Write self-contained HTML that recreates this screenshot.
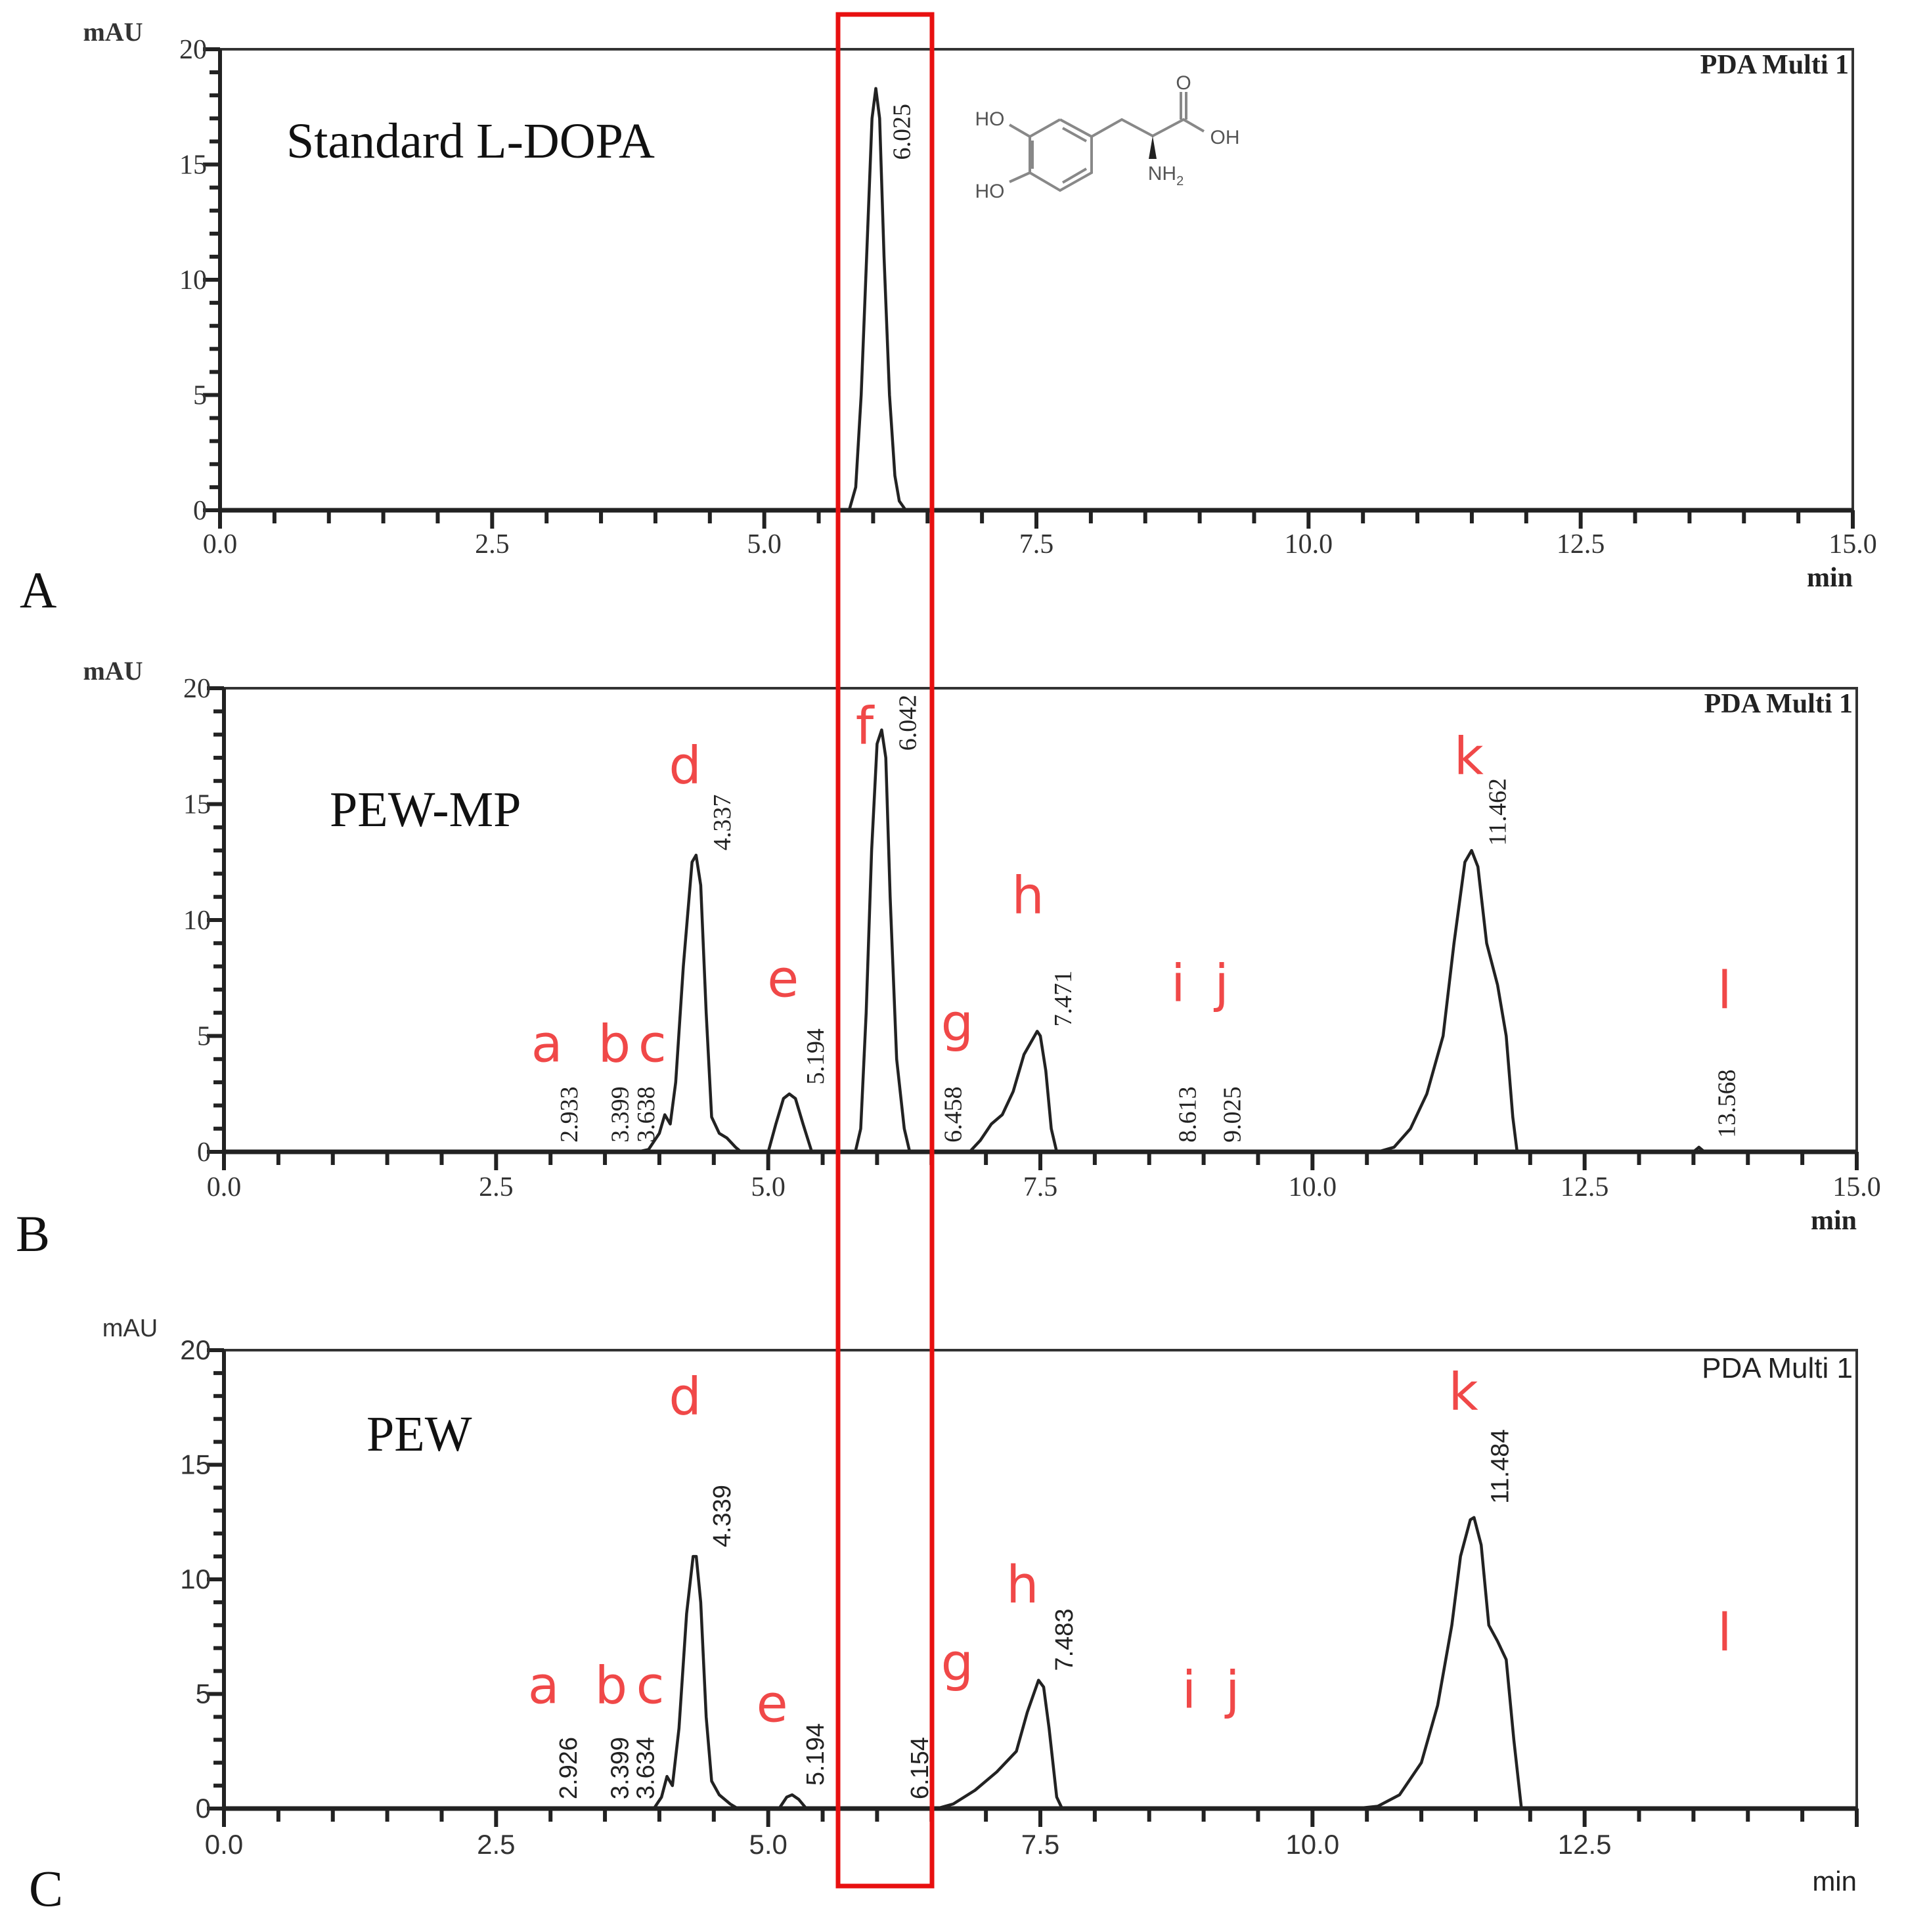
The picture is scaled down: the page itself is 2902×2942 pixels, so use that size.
<!DOCTYPE html>
<html><head><meta charset="utf-8"><style>
html,body{margin:0;padding:0;background:#fff;}
svg{display:block;}
</style></head><body>
<svg id="chart" width="2902" height="2942" viewBox="0 0 2902 2942" xmlns="http://www.w3.org/2000/svg">
<g id="molecule" stroke="#888" stroke-width="4" fill="none">
  <polyline points="1614,182 1662,208 1662,263 1614,290 1568,263 1568,208 1614,182"/>
  <line x1="1572" y1="214" x2="1572" y2="257" />
  <line x1="1618" y1="195" x2="1654" y2="215"/>
  <line x1="1618" y1="278" x2="1654" y2="257"/>
  <line x1="1568" y1="208" x2="1537" y2="190"/>
  <line x1="1568" y1="263" x2="1537" y2="277"/>
  <polyline points="1662,208 1708,182 1755,207 1802,182 1833,200"/>
  <line x1="1798" y1="182" x2="1798" y2="140"/><line x1="1806" y1="182" x2="1806" y2="140"/>
  <polygon points="1755,207 1749,242 1761,242" fill="#222" stroke="none"/>
  <g fill="#555" stroke="none" font-family="Liberation Sans, sans-serif" font-size="30">
    <text x="1507" y="191" text-anchor="middle">HO</text>
    <text x="1507" y="301" text-anchor="middle">HO</text>
    <text x="1802" y="136" text-anchor="middle">O</text>
    <text x="1865" y="219" text-anchor="middle">OH</text>
    <text x="1775" y="274" text-anchor="middle">NH<tspan font-size="20" dy="8">2</tspan></text>
  </g>
</g>
</svg>
<script>
// ---- data ----
var panelNames = ["A", "B", "C"];
var panelTitles = ["Standard L-DOPA", "PEW-MP", "PEW"];
var xTickLabels = ["0.0", "2.5", "5.0", "7.5", "10.0", "12.5", "15.0"];
var yTickLabels = ["0", "5", "10", "15", "20"];
var traceA_t = [5.78, 5.84, 5.89, 5.94, 5.99, 6.025, 6.06, 6.1, 6.15, 6.2, 6.24, 6.3];
var traceA_y = [0, 1, 5, 11, 17, 18.3, 17, 11, 5, 1.5, 0.4, 0];
var traceB_t = [0, 3.8, 3.9, 4.0, 4.05, 4.1, 4.15, 4.22, 4.3, 4.337, 4.38, 4.43, 4.48, 4.55, 4.62, 4.7, 4.75, 5.0, 5.07, 5.14, 5.194, 5.25, 5.32, 5.4, 5.8, 5.85, 5.9, 5.95, 6.0, 6.042, 6.08, 6.12, 6.18, 6.25, 6.3, 6.85, 6.95, 7.05, 7.15, 7.25, 7.35, 7.471, 7.5, 7.55, 7.6, 7.65, 10.6, 10.75, 10.9, 11.05, 11.2, 11.3, 11.4, 11.462, 11.52, 11.6, 11.7, 11.78, 11.84, 11.88, 13.5, 13.55, 13.6, 15];
var traceB_y = [0, 0, 0.1, 0.8, 1.6, 1.2, 3, 8, 12.5, 12.8, 11.5, 6, 1.5, 0.8, 0.6, 0.2, 0, 0, 1.2, 2.3, 2.5, 2.3, 1.2, 0, 0, 1, 6, 13, 17.6, 18.2, 17, 11, 4, 1, 0, 0, 0.5, 1.2, 1.6, 2.6, 4.2, 5.2, 5, 3.5, 1, 0, 0, 0.2, 1, 2.5, 5, 9, 12.5, 13, 12.3, 9, 7.2, 5, 1.5, 0, 0, 0.2, 0, 0];
var traceC_t = [0, 3.95, 4.02, 4.07, 4.12, 4.18, 4.25, 4.31, 4.339, 4.38, 4.43, 4.48, 4.55, 4.65, 4.72, 5.1, 5.17, 5.22, 5.28, 5.35, 6.55, 6.7, 6.9, 7.1, 7.28, 7.38, 7.483, 7.53, 7.58, 7.65, 7.7, 10.4, 10.6, 10.8, 11.0, 11.15, 11.28, 11.36, 11.45, 11.484, 11.55, 11.62, 11.7, 11.78, 11.85, 11.92, 15];
var traceC_y = [0, 0, 0.5, 1.4, 1.0, 3.5, 8.5, 11, 11, 9, 4, 1.2, 0.6, 0.2, 0, 0, 0.5, 0.6, 0.4, 0, 0, 0.2, 0.8, 1.6, 2.5, 4.2, 5.6, 5.3, 3.5, 0.5, 0, 0, 0.1, 0.6, 2, 4.5, 8, 11, 12.6, 12.7, 11.5, 8, 7.3, 6.5, 3, 0, 0];
var rtA = ["6.025"]; var rtA_t = [6.025]; var rtA_y = [15.2];
var rtB = ["2.933","3.399","3.638","4.337","5.194","6.042","6.458","7.471","8.613","9.025","11.462","13.568"];
var rtB_t = [2.933,3.399,3.638,4.337,5.194,6.042,6.458,7.471,8.613,9.025,11.462,13.568];
var rtB_y = [0.4,0.4,0.4,13,2.9,17.3,0.4,5.4,0.4,0.4,13.2,0.6];
var rtC = ["2.926","3.399","3.634","4.339","5.194","6.154","7.483","11.484"];
var rtC_t = [2.926,3.399,3.634,4.339,5.194,6.154,7.483,11.484];
var rtC_y = [0.4,0.4,0.4,11.4,1.0,0.4,6.0,13.3];
var letters = ["a","b","c","d","e","f","g","h","i","j","k","l"];
var lettersB_t = [2.93,3.55,3.9,4.2,5.1,5.85,6.7,7.35,8.73,9.13,11.4,13.75];
var lettersB_y = [3.9,3.9,3.9,15.9,6.7,17.6,4.8,10.3,6.5,6.5,16.3,6.2];
var lettersC = ["a","b","c","d","e","g","h","i","j","k","l"];
var lettersC_t = [2.9,3.52,3.88,4.2,5.0,6.7,7.3,8.83,9.23,11.35,13.75];
var lettersC_y = [4.6,4.6,4.6,17.2,3.8,5.6,9.0,4.4,4.4,17.4,6.9];

var svg = document.getElementById('chart');
var NS = "http://www.w3.org/2000/svg";
function mk(tag, attrs, parent){var e=document.createElementNS(NS,tag);for(var k in attrs)e.setAttribute(k,attrs[k]);(parent||svg).appendChild(e);return e;}

var panels = [
 {x0:335,x1:2821,yT:75,yB:777,serif:true,t:traceA_t,y:traceA_y,rt:rtA,rtt:rtA_t,rty:rtA_y,lab:[],labt:[],laby:[],
  mauX:120,mauY:62,pdaY:112,titleX:436,titleY:240,letX:30,letY:925,xlY:842,minY:893,showLast:true},
 {x0:341,x1:2827,yT:1048,yB:1754,serif:true,t:traceB_t,y:traceB_y,rt:rtB,rtt:rtB_t,rty:rtB_y,lab:letters,labt:lettersB_t,laby:lettersB_y,
  mauX:120,mauY:1035,pdaY:1085,titleX:502,titleY:1258,letX:24,letY:1905,xlY:1821,minY:1872,showLast:true},
 {x0:341,x1:2827,yT:2056,yB:2754,serif:false,t:traceC_t,y:traceC_y,rt:rtC,rtt:rtC_t,rty:rtC_y,lab:lettersC,labt:lettersC_t,laby:lettersC_y,
  mauX:146,mauY:2035,pdaY:2098,titleX:558,titleY:2209,letX:44,letY:2902,xlY:2823,minY:2879,showLast:false}
];

panels.forEach(function(p,pi){
  var g = mk('g',{});
  
  
  var ff = p.serif ? 'Liberation Serif, serif' : 'Liberation Sans, sans-serif';
  var X = function(t){return p.x0 + (p.x1-p.x0)*t/15;};
  var Y = function(v){return p.yB - (p.yB-p.yT)*v/20;};
  var fr = mk('rect',{x:p.x0,y:p.yT,width:p.x1-p.x0,height:p.yB-p.yT,fill:'none',stroke:'#333','stroke-width':4},g);
  
  
  var ax = mk('line',{x1:p.x0,y1:p.yB,x2:p.x1,y2:p.yB,stroke:'#222','stroke-width':7},g);
  
  
  var ay = mk('line',{x1:p.x0,y1:p.yT,x2:p.x0,y2:p.yB,stroke:'#222','stroke-width':6},g);
  
  
  for(var i=0;i<=30;i++){var t=i*0.5;var maj=(i%5===0);
    mk('line',{x1:X(t),y1:p.yB,x2:X(t),y2:p.yB+(maj?28:20),stroke:'#222','stroke-width':6},g);}
  xTickLabels.forEach(function(s,i){
    if(!p.showLast && i===6) return;
    var tl = mk('text',{x:X(i*2.5),y:p.xlY,'text-anchor':'middle','font-family':ff,'font-size':42,fill:'#333'},g);
    tl.textContent=s;
    
    
  });
  for(var j=0;j<=20;j++){var maj2=(j%5===0);
    mk('line',{x1:p.x0-(maj2?26:16),y1:Y(j),x2:p.x0,y2:Y(j),stroke:'#222','stroke-width':6},g);}
  yTickLabels.forEach(function(s,i){
    var yl = mk('text',{x:p.x0-20,y:Y(i*5)+14,'text-anchor':'end','font-family':ff,'font-size':42,fill:'#333'},g);
    yl.textContent=s;
    
    
  });
  var mau = mk('text',{x:p.mauX+52,y:p.mauY,'text-anchor':'middle','font-family':ff,'font-size':p.serif?40:38,'font-weight':p.serif?'bold':'normal',fill:'#333'},g);
  mau.textContent='mAU';
  
  
  var pda = mk('text',{x:p.x1-6,y:p.pdaY,'text-anchor':'end','font-family':ff,'font-size':p.serif?42:44,fill:'#222','font-weight':p.serif?'bold':'normal'},g);
  pda.textContent='PDA Multi 1';
  
  
  var mn = mk('text',{x:p.x1,y:p.minY,'text-anchor':'end','font-family':ff,'font-size':42,'font-weight':p.serif?'bold':'normal',fill:'#222'},g);
  mn.textContent='min';
  
  
  var ti = mk('text',{x:p.titleX,y:p.titleY,'font-family':'Liberation Serif, serif','font-size':76,fill:'#111'},g);
  ti.textContent=panelTitles[pi];
  
  
  var le = mk('text',{x:p.letX,y:p.letY,'font-family':'Liberation Serif, serif','font-size':78,fill:'#111'},g);
  le.textContent=panelNames[pi];
  
  
  var pts = p.t.map(function(t,k){return X(t).toFixed(1)+','+Y(p.y[k]).toFixed(1);}).join(' ');
  var tr = mk('polyline',{points:pts,fill:'none',stroke:'#222','stroke-width':4.5,'stroke-linejoin':'round'},g);
  
  
  p.rt.forEach(function(s,k){
    var x = X(p.rtt[k]) + 52, y = Y(p.rty[k]);
    var rl = mk('text',{x:x,y:y,transform:'rotate(-90 '+x+' '+y+')','font-family':ff,'font-size':p.serif?38:38,fill:'#222'},g);
    rl.textContent=s;
    
    
  });
  p.lab.forEach(function(s,k){
    var pl = mk('text',{x:X(p.labt[k])+6,y:Y(p.laby[k]),'text-anchor':'middle','font-family':'DejaVu Sans, sans-serif','font-size':78,fill:'#f04848'},g);
    pl.textContent=s;
    
    
  });
});
var hb = mk('rect',{x:1276,y:22,width:143,height:2850,fill:'none',stroke:'#e81010','stroke-width':7});


</script>
</body></html>
